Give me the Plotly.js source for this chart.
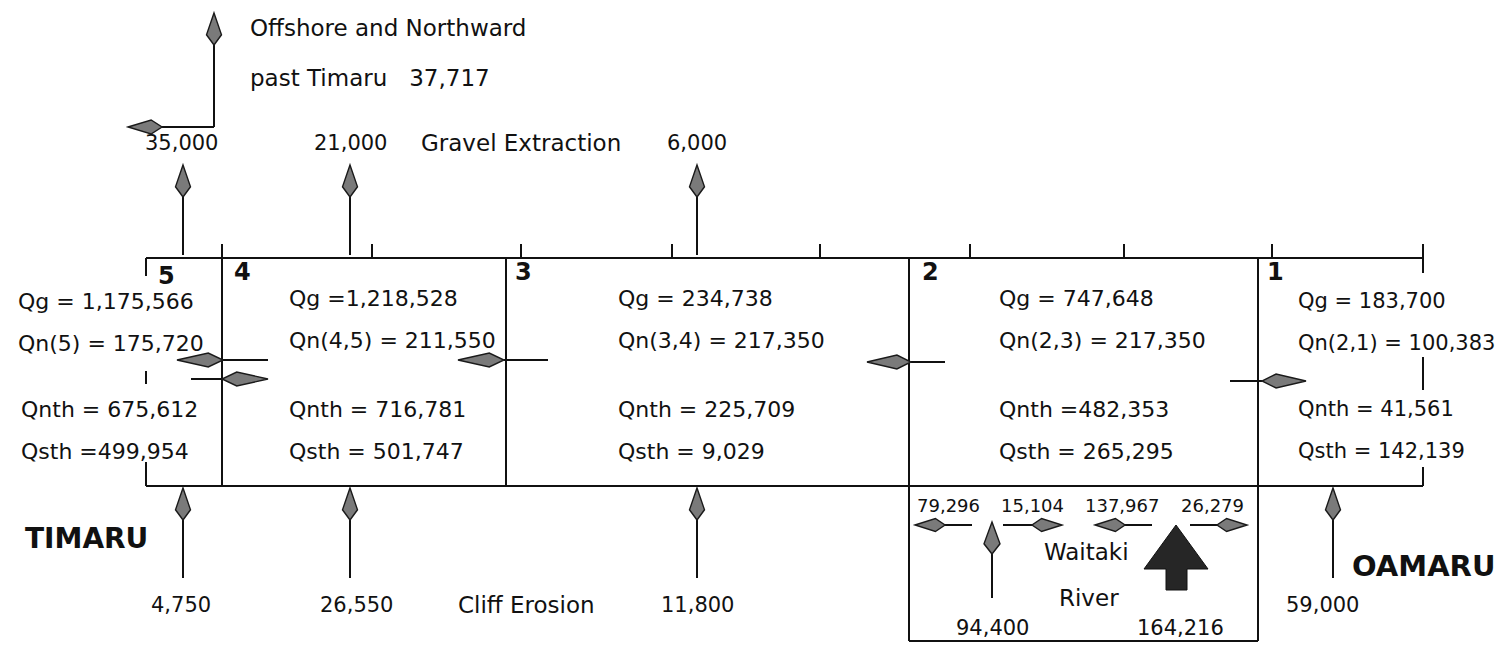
<!DOCTYPE html>
<html>
<head>
<meta charset="utf-8">
<script src="https://cdn.plot.ly/plotly-3.0.1.min.js"></script>
<style>html,body{margin:0;padding:0;background:#fff;}#chart{width:1499px;height:645px;}</style>
</head>
<body>
<div id="chart"></div>
<script>
// ---- data (m^3/yr) ----
const boxIds = ['5', '4', '3', '2', '1'];
const qgValues = [1175566, 1218528, 234738, 747648, 183700];
const qnLabels = ['Qn(5)', 'Qn(4,5)', 'Qn(3,4)', 'Qn(2,3)', 'Qn(2,1)'];
const qnValues = [175720, 211550, 217350, 217350, 100383];
const qnthValues = [675612, 716781, 225709, 482353, 41561];
const qsthValues = [499954, 501747, 9029, 265295, 142139];
const gravelExtraction = [35000, 21000, 6000];
const cliffErosion = [4750, 26550, 11800, 59000];
const waitakiSplit = [79296, 15104, 137967, 26279];
const waitakiInput = [94400, 164216];
const offshoreLoss = 37717;
const placeNames = ['TIMARU', 'OAMARU'];

const fmt = v => v.toLocaleString('en-US');
const FONT = 'DejaVu Sans, Arial, sans-serif';
const INK = '#111111';

const shapes = [];
const annotations = [];

function line(x0, y0, x1, y1, w) {
  shapes.push({type: 'line', xref: 'x', yref: 'y', x0, y0, x1, y1, line: {color: INK, width: w || 2}});
}
function arrow(x0, y0, x1, y1, L, W, lw) {
  const dx = x1 - x0, dy = y1 - y0, len = Math.hypot(dx, dy);
  const ux = dx / len, uy = dy / len, px = -uy, py = ux;
  const tx = x1 - ux * L, ty = y1 - uy * L;
  const mx = x1 - ux * L * 0.68, my = y1 - uy * L * 0.68;
  line(x0, y0, tx, ty, lw || 2);
  shapes.push({
    type: 'path', xref: 'x', yref: 'y',
    path: `M ${x1} ${y1} L ${mx + px * W} ${my + py * W} L ${tx} ${ty} L ${mx - px * W} ${my - py * W} Z`,
    fillcolor: '#7a7a7a', line: {color: '#1a1a1a', width: 1.4}
  });
}
function text(str, x, y, size, anchor, bold) {
  annotations.push({
    text: bold ? '<b>' + str + '</b>' : str, x, y, xref: 'x', yref: 'y', showarrow: false,
    xanchor: anchor || 'center', yanchor: 'middle',
    font: {family: FONT, size: size, color: INK}
  });
}

// ---- frame of compartments ----
const yTop = 258, yBot = 486, yRiver = 641;
line(146, yTop, 1423, yTop, 2.2);
line(146, yBot, 1423, yBot, 2.2);
[222, 372, 521, 672, 820, 970, 1124, 1272, 1423].forEach(x => line(x, 244, x, yTop, 2));
[222, 506].forEach(x => line(x, yTop, x, yBot, 2));
[909, 1258].forEach(x => line(x, yTop, x, yRiver, 2));
line(909, yRiver, 1258, yRiver, 2);
// broken outer edges
[[258, 276], [371, 384], [462, yBot]].forEach(s => line(146, s[0], 146, s[1], 2));
[[yTop, 273], [357, 390], [467, yBot]].forEach(s => line(1423, s[0], 1423, s[1], 2));

// ---- compartment contents ----
const boxLeft = [16, 287, 616, 997, 1296];
const boxFont = [22, 22, 22, 22, 21];
const boxNumPos = [[166, 276], [242, 272], [523, 272], [930, 272], [1275, 272]];
const rowY = [298, 340, 409, 451];
const tight = {qg: [1], qnth: [3], qsth: [0]};
const eq = (key, i) => (tight[key].indexOf(i) >= 0 ? ' =' : ' = ');
boxIds.forEach((id, i) => {
  text(id, boxNumPos[i][0], boxNumPos[i][1], 24, 'center', true);
  const xl = boxLeft[i];
  const xs = i === 0 ? xl + 3 : xl;
  const dy = (i === 0 || i === 4) ? 3 : 0;
  const fs = boxFont[i];
  text('Qg' + eq('qg', i) + fmt(qgValues[i]), xl, rowY[0] + dy, fs, 'left');
  text(qnLabels[i] + ' = ' + fmt(qnValues[i]), xl, rowY[1] + dy, fs, 'left');
  text('Qnth' + eq('qnth', i) + fmt(qnthValues[i]), xs, rowY[2], fs, 'left');
  text('Qsth' + eq('qsth', i) + fmt(qsthValues[i]), xs, rowY[3], fs, 'left');
});

// longshore transfer arrows
arrow(268, 360, 177, 360, 46, 7, 2);
arrow(191, 379, 268, 379, 46, 7, 2);
arrow(548, 360, 458, 360, 46, 7, 2);
arrow(945, 362, 867, 362, 44, 7, 2);
arrow(1230, 381, 1306, 381, 44, 7, 2);

// ---- offshore / northward loss ----
arrow(214, 127, 214, 13, 32, 7.5, 2);
arrow(214, 127, 128, 127, 34, 7, 2);
text('Offshore and Northward', 248, 28, 23, 'left');
text('past Timaru   ' + fmt(offshoreLoss), 248, 78, 23, 'left');

// ---- gravel extraction ----
const gravelX = [183, 350, 697];
const gravelLabelX = [181, 350, 697];
gravelExtraction.forEach((v, i) => {
  arrow(gravelX[i], 255, gravelX[i], 165, 32, 7.5, 2);
  text(fmt(v), gravelLabelX[i], 143, 21, 'center');
});
text('Gravel Extraction', 521, 143, 23, 'center');

// ---- cliff erosion ----
const cliffX = [183, 350, 697, 1333];
const cliffLabelX = [181, 356, 697, 1322];
cliffErosion.forEach((v, i) => {
  arrow(cliffX[i], 578, cliffX[i], 488, 32, 7.5, 2);
  text(fmt(v), cliffLabelX[i], 605, 21, 'center');
});
text('Cliff Erosion', 526, 605, 23, 'center');
text(placeNames[0], 86, 538, 28, 'center', true);
text(placeNames[1], 1424, 566, 29, 'center', true);

// ---- Waitaki River ----
const splitLabelX = [948, 1032, 1122, 1212];
waitakiSplit.forEach((v, i) => text(fmt(v), splitLabelX[i], 505, 18, 'center'));
arrow(972, 525, 915, 525, 30, 6.5, 2);
arrow(1003, 525, 1062, 525, 30, 6.5, 2);
arrow(1152, 525, 1095, 525, 30, 6.5, 2);
arrow(1190, 525, 1247, 525, 30, 6.5, 2);
arrow(992, 598, 992, 522, 32, 8, 2);
shapes.push({
  type: 'path', xref: 'x', yref: 'y',
  path: 'M 1176 525 L 1208 569 L 1187 569 L 1187 590 L 1166 590 L 1166 569 L 1144 569 Z',
  fillcolor: '#262626', line: {color: '#111', width: 1}
});
text('Waitaki', 1086, 552, 23, 'center');
text('River', 1089, 598, 23, 'center');
text(fmt(waitakiInput[0]), 992, 628, 21, 'center');
text(fmt(waitakiInput[1]), 1180, 628, 21, 'center');

const ax = {range: [0, 1499], visible: false, showgrid: false, zeroline: false, fixedrange: true};
Plotly.newPlot('chart', [], {
  width: 1499, height: 645,
  margin: {l: 0, r: 0, t: 0, b: 0},
  paper_bgcolor: '#fff', plot_bgcolor: '#fff',
  xaxis: ax,
  yaxis: {range: [645, 0], visible: false, showgrid: false, zeroline: false, fixedrange: true},
  shapes, annotations, showlegend: false
}, {displayModeBar: false, staticPlot: true});
</script>
</body>
</html>
